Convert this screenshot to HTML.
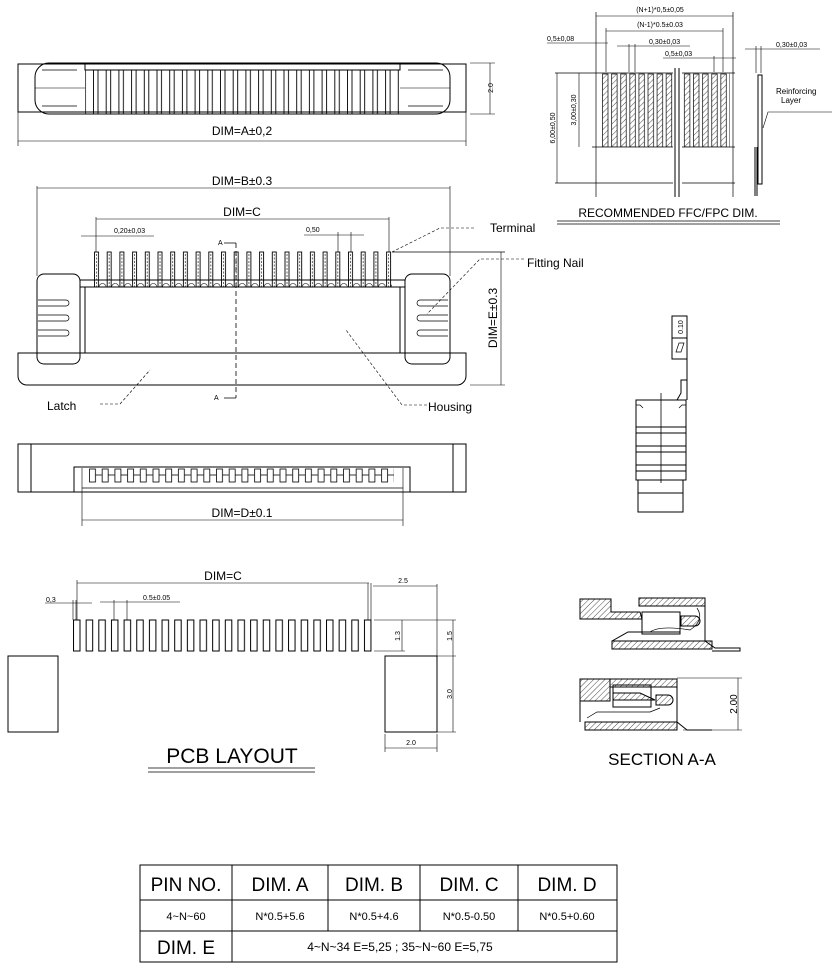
<!DOCTYPE html>
<html><head><meta charset="utf-8"><style>
html,body{margin:0;padding:0;background:#fff;}
svg{display:block;font-family:"Liberation Sans",Arial,sans-serif;}
</style></head><body>
<svg width="838" height="970" viewBox="0 0 838 970" xmlns="http://www.w3.org/2000/svg">
<defs>
<pattern id="pinTop" patternUnits="userSpaceOnUse" x="93" y="0" width="12.7" height="200"><rect x="0.5" y="70" width="4.5" height="44" fill="none" stroke="#000" stroke-width="0.9"/></pattern>
<pattern id="pinFront" patternUnits="userSpaceOnUse" x="94" y="0" width="12.7" height="400"><rect x="0.5" y="252" width="4" height="35" fill="none" stroke="#000" stroke-width="0.9"/><line x1="2.5" y1="254" x2="2.5" y2="287" stroke="#000" stroke-width="0.6" stroke-dasharray="2,1.5"/><path d="M5 287 a3.5 3.5 0 0 1 7 0" fill="none" stroke="#000" stroke-width="0.6"/></pattern>
<pattern id="pinBot" patternUnits="userSpaceOnUse" x="89" y="0" width="12.7" height="600"><rect x="0.5" y="469" width="6" height="13" fill="none" stroke="#000" stroke-width="0.8"/><line x1="6.5" y1="475" x2="12.7" y2="475" stroke="#000" stroke-width="0.8"/></pattern>
<pattern id="pad" patternUnits="userSpaceOnUse" x="73" y="0" width="12.65" height="800"><rect x="0.5" y="620" width="6.5" height="31" fill="none" stroke="#000" stroke-width="1"/></pattern>
<pattern id="ffc" patternUnits="userSpaceOnUse" x="602" y="0" width="9.1" height="300"><rect x="0.5" y="74" width="5.5" height="73" fill="url(#hatch)" stroke="#000" stroke-width="0.7"/></pattern>
<pattern id="hatch" patternUnits="userSpaceOnUse" width="4" height="4" patternTransform="rotate(45)"><line x1="0" y1="0" x2="0" y2="4" stroke="#000" stroke-width="0.7"/></pattern>
</defs>
<g fill="none" stroke="#000" stroke-width="1">
<rect x="18" y="64" width="448" height="48"/>
<rect x="35" y="63" width="415" height="51" rx="14"/>
<rect x="85" y="63" width="315" height="7"/>
<rect x="85" y="70" width="315" height="44" fill="url(#pinTop)" stroke="none"/>
<line x1="35" y1="88" x2="85" y2="88" stroke-width="0.6"/><line x1="400" y1="88" x2="450" y2="88" stroke-width="0.6"/>
<path d="M42 70 h35 M42 106 h35 M408 70 h35 M408 106 h35" stroke-width="0.7"/>
<line x1="470" y1="63" x2="495" y2="63" stroke-width="0.6"/><line x1="470" y1="114" x2="495" y2="114" stroke-width="0.6"/>
<line x1="490" y1="63" x2="490" y2="114" stroke-width="0.6"/>
<line x1="18" y1="112" x2="18" y2="146" stroke-width="0.6"/><line x1="466" y1="112" x2="466" y2="146" stroke-width="0.6"/>
<line x1="18" y1="141" x2="466" y2="141" stroke-width="0.6"/>
<line x1="37" y1="188" x2="450" y2="188" stroke-width="0.6"/>
<line x1="37" y1="186" x2="37" y2="276" stroke-width="0.6"/><line x1="450" y1="186" x2="450" y2="276" stroke-width="0.6"/>
<line x1="96" y1="219" x2="389" y2="219" stroke-width="0.6"/>
<line x1="96" y1="217" x2="96" y2="252" stroke-width="0.6"/><line x1="389" y1="217" x2="389" y2="252" stroke-width="0.6"/>
<line x1="81" y1="236" x2="154" y2="236" stroke-width="0.6"/>
<line x1="304" y1="235" x2="364" y2="235" stroke-width="0.6"/>
<line x1="338" y1="232" x2="338" y2="252" stroke-width="0.6"/><line x1="351" y1="232" x2="351" y2="252" stroke-width="0.6"/>
<rect x="94" y="250" width="298" height="40" fill="url(#pinFront)" stroke="none"/>
<rect x="80" y="280" width="325" height="7"/>
<rect x="37" y="274" width="43" height="90" rx="7"/>
<rect x="405" y="274" width="45" height="90" rx="7"/>
<line x1="85" y1="287" x2="85" y2="353"/><line x1="400" y1="287" x2="400" y2="353"/>
<path d="M38 300 h28 a3 3 0 0 1 0 6 h-28 M38 315 h28 a3 3 0 0 1 0 6 h-28 M38 330 h28 a3 3 0 0 1 0 6 h-28" stroke-width="0.7"/>
<path d="M448 300 h-28 a3 3 0 0 0 0 6 h28 M448 315 h-28 a3 3 0 0 0 0 6 h28 M448 330 h-28 a3 3 0 0 0 0 6 h28" stroke-width="0.7"/>
<path d="M18 353 H466 V376 a9 9 0 0 1 -9 9 H27 a9 9 0 0 1 -9 -9 Z"/>
<line x1="236" y1="243" x2="236" y2="398" stroke-dasharray="5,3" stroke-width="0.8"/>
<path d="M224 243 h12 M224 398 h12" stroke-width="0.7"/>
<line x1="392" y1="252" x2="505" y2="252" stroke-width="0.7"/>
<line x1="470" y1="385" x2="505" y2="385" stroke-width="0.6"/>
<line x1="501" y1="252" x2="501" y2="385" stroke-width="0.6"/>
<path d="M474 228 H440 L392 252" stroke-dasharray="3,2" stroke-width="0.6"/>
<path d="M524 259 H480 L427 314" stroke-dasharray="3,2" stroke-width="0.6"/>
<path d="M100 404 H120 L150 370" stroke-dasharray="3,2" stroke-width="0.6"/>
<path d="M427 405 H402 L346 330" stroke-dasharray="3,2" stroke-width="0.6"/>
<rect x="18" y="444" width="448" height="48"/>
<line x1="31" y1="444" x2="31" y2="492"/><line x1="453" y1="444" x2="453" y2="492"/>
<path d="M74 492 V467 H410 V492"/>
<line x1="82" y1="488" x2="403" y2="488" stroke-width="0.8"/>
<rect x="89" y="465" width="305" height="20" fill="url(#pinBot)" stroke="none"/>
<line x1="82" y1="468" x2="82" y2="526" stroke-width="0.6"/><line x1="403" y1="468" x2="403" y2="526" stroke-width="0.6"/>
<line x1="82" y1="520" x2="403" y2="520" stroke-width="0.6"/>
<line x1="555" y1="73" x2="735" y2="73" stroke-width="0.8"/>
<line x1="592" y1="147" x2="735" y2="147" stroke-width="0.8"/>
<line x1="555" y1="183" x2="735" y2="183" stroke-width="0.8"/>
<rect x="600" y="73" width="130" height="74" fill="url(#ffc)" stroke="none"/>
<rect x="673" y="68" width="9" height="130" fill="#fff" stroke="none"/>
<line x1="675" y1="68" x2="675" y2="197"/><line x1="679" y1="68" x2="679" y2="197"/>
<line x1="596" y1="12" x2="596" y2="197" stroke-width="0.7"/><line x1="733" y1="12" x2="733" y2="197" stroke-width="0.7"/>
<line x1="596" y1="16" x2="733" y2="16" stroke-width="0.6"/>
<line x1="606" y1="31" x2="723" y2="31" stroke-width="0.6"/>
<line x1="606" y1="28" x2="606" y2="72" stroke-width="0.6"/><line x1="723" y1="28" x2="723" y2="72" stroke-width="0.6"/>
<line x1="617" y1="46" x2="690" y2="46" stroke-width="0.6"/>
<line x1="629" y1="44" x2="629" y2="72" stroke-width="0.6"/><line x1="635" y1="44" x2="635" y2="72" stroke-width="0.6"/>
<line x1="663" y1="58" x2="736" y2="58" stroke-width="0.6"/>
<line x1="714" y1="56" x2="714" y2="72" stroke-width="0.6"/>
<line x1="547" y1="43" x2="608" y2="43" stroke-width="0.6"/>
<line x1="557" y1="73" x2="557" y2="183" stroke-width="0.6"/>
<line x1="579" y1="73" x2="579" y2="147" stroke-width="0.6"/>
<line x1="745" y1="49" x2="820" y2="49" stroke-width="0.6"/>
<line x1="756" y1="46" x2="756" y2="73" stroke-width="0.6"/><line x1="761" y1="46" x2="761" y2="73" stroke-width="0.6"/>
<rect x="758" y="75" width="4" height="109"/>
<line x1="755" y1="147" x2="755" y2="196"/><line x1="757" y1="147" x2="757" y2="196"/>
<path d="M763 128 L768 112 H832" stroke-width="0.6"/>
<line x1="557" y1="221" x2="780" y2="221" stroke-width="0.8"/><line x1="557" y1="224" x2="780" y2="224" stroke-width="0.8"/>
<rect x="672" y="316" width="15" height="43"/><line x1="672" y1="338" x2="687" y2="338"/>
<path d="M676 352 l3 -9 h5 l-3 9 z" stroke-width="0.7"/>
<path d="M687 359 V400 M687 380 H681 V393 L677 400" />
<rect x="636" y="400" width="50" height="80"/>
<path d="M636 405 h4 l3 3 M686 405 h-4 l-3 3" stroke-width="0.7"/>
<rect x="636" y="427" width="50" height="6"/><rect x="636" y="446" width="50" height="6"/><rect x="636" y="465" width="50" height="6"/>
<rect x="638" y="480" width="45" height="32"/><line x1="638" y1="493" x2="683" y2="493"/>
<line x1="661" y1="393" x2="661" y2="483" stroke-width="0.8"/>
<path d="M580 599 H611 V612 H640 L642 619 H580 Z" fill="url(#hatch)"/>
<rect x="639" y="598" width="66" height="8" fill="url(#hatch)"/>
<path d="M640 606 H705 V641" />
<rect x="642" y="612" width="38" height="22"/>
<path d="M681 616 H695 a3 3 0 0 1 0 10 H681 Z" fill="url(#hatch)"/>
<path d="M650 632 Q660 625 690 630 Q705 620 697 608" stroke-width="0.7"/>
<rect x="612" y="641" width="100" height="8" fill="url(#hatch)"/>
<path d="M612 641 L628 632 H680 M705 641 L715 648 H740 V651 H712" />
<rect x="580" y="679" width="30" height="22" fill="url(#hatch)"/>
<rect x="610" y="679" width="67" height="8" fill="url(#hatch)"/>
<path d="M610 687 H677 V722 M580 701 V722" />
<rect x="613" y="685" width="38" height="22"/>
<path d="M613 693 H640 L655 700 H613 Z" fill="url(#hatch)"/>
<path d="M656 695 H668 a3 3 0 0 1 0 10 H656 Z" fill="url(#hatch)"/>
<path d="M587 718 L597 712 H650 L660 708" stroke-width="0.7"/>
<rect x="585" y="722" width="92" height="8" fill="url(#hatch)"/>
<path d="M677 722 L687 730 H712" />
<path d="M677 678 H742 M683 730 H742 M738 678 V730" stroke-width="0.6"/>
<rect x="70" y="618" width="306" height="36" fill="url(#pad)" stroke="none"/>
<line x1="77" y1="583" x2="369" y2="583" stroke-width="0.6"/>
<line x1="77" y1="580" x2="77" y2="620" stroke-width="0.6"/>
<line x1="368" y1="583" x2="368" y2="620" stroke-width="0.6"/><line x1="371" y1="583" x2="371" y2="620" stroke-width="0.6"/>
<line x1="373" y1="586" x2="437" y2="586" stroke-width="0.6"/>
<line x1="437" y1="584" x2="437" y2="656" stroke-width="0.6"/>
<line x1="45" y1="603" x2="92" y2="603" stroke-width="0.6"/>
<line x1="73" y1="600" x2="73" y2="620" stroke-width="0.6"/><line x1="76" y1="600" x2="76" y2="620" stroke-width="0.6"/>
<line x1="100" y1="602" x2="180" y2="602" stroke-width="0.6"/>
<line x1="114" y1="600" x2="114" y2="620" stroke-width="0.6"/><line x1="127" y1="600" x2="127" y2="620" stroke-width="0.6"/>
<line x1="374" y1="620" x2="456" y2="620" stroke-width="0.6"/>
<line x1="374" y1="651" x2="405" y2="651" stroke-width="0.6"/>
<line x1="402" y1="620" x2="402" y2="651" stroke-width="0.6"/>
<line x1="453" y1="620" x2="453" y2="732" stroke-width="0.6"/>
<line x1="437" y1="656" x2="456" y2="656" stroke-width="0.6"/><line x1="437" y1="732" x2="456" y2="732" stroke-width="0.6"/>
<rect x="8" y="656" width="50" height="76"/>
<rect x="385" y="656" width="52" height="76"/>
<line x1="385" y1="734" x2="385" y2="752" stroke-width="0.6"/><line x1="437" y1="734" x2="437" y2="752" stroke-width="0.6"/>
<line x1="385" y1="748" x2="437" y2="748" stroke-width="0.6"/>
<line x1="148" y1="768" x2="315" y2="768" stroke-width="0.8"/><line x1="148" y1="772" x2="315" y2="772" stroke-width="0.8"/>
<rect x="140" y="865" width="477" height="97"/>
<path d="M140 900 H617 M140 931 H617 M232 865 V962 M328 865 V931 M420 865 V931 M518 865 V931"/>
</g>
<g fill="#000">
<text x="242" y="135" font-size="12" text-anchor="middle">DIM=A±0,2</text>
<text x="493" y="88" font-size="7" text-anchor="middle" transform="rotate(-90 493 88)">2.0</text>
<text x="242" y="185" font-size="12" text-anchor="middle">DIM=B±0.3</text>
<text x="242" y="216" font-size="12" text-anchor="middle">DIM=C</text>
<text x="114" y="233" font-size="7">0,20±0,03</text>
<text x="306" y="232" font-size="7">0,50</text>
<text x="218" y="245" font-size="7">A</text>
<text x="214" y="400" font-size="7">A</text>
<text x="490" y="232" font-size="12">Terminal</text>
<text x="527" y="267" font-size="12">Fitting Nail</text>
<text x="47" y="410" font-size="12">Latch</text>
<text x="428" y="411" font-size="12">Housing</text>
<text x="497" y="318" font-size="12" text-anchor="middle" transform="rotate(-90 497 318)">DIM=E±0.3</text>
<text x="242" y="517" font-size="12" text-anchor="middle">DIM=D±0.1</text>
<text x="660" y="12" font-size="7" text-anchor="middle">(N+1)*0,5±0,05</text>
<text x="660" y="27" font-size="7" text-anchor="middle">(N-1)*0.5±0.03</text>
<text x="649" y="44" font-size="7">0,30±0,03</text>
<text x="665" y="56" font-size="7">0,5±0,03</text>
<text x="547" y="41" font-size="7">0,5±0,08</text>
<text x="776" y="47" font-size="7">0,30±0,03</text>
<text x="776" y="94" font-size="8">Reinforcing</text>
<text x="781" y="103" font-size="8">Layer</text>
<text x="555" y="128" font-size="7" text-anchor="middle" transform="rotate(-90 555 128)">6,00±0,50</text>
<text x="576" y="110" font-size="7" text-anchor="middle" transform="rotate(-90 576 110)">3,00±0,30</text>
<text x="668" y="217" font-size="12" text-anchor="middle">RECOMMENDED FFC/FPC DIM.</text>
<text x="683" y="327" font-size="7" text-anchor="middle" transform="rotate(-90 683 327)">0.10</text>
<text x="737" y="704" font-size="10" text-anchor="middle" transform="rotate(-90 737 704)">2.00</text>
<text x="662" y="765" font-size="17" text-anchor="middle">SECTION A-A</text>
<text x="223" y="580" font-size="12" text-anchor="middle">DIM=C</text>
<text x="46" y="602" font-size="7">0,3</text>
<text x="143" y="600" font-size="7">0.5±0.05</text>
<text x="403" y="583" font-size="7" text-anchor="middle">2.5</text>
<text x="400" y="636" font-size="7" text-anchor="middle" transform="rotate(-90 400 636)">1.3</text>
<text x="452" y="636" font-size="7" text-anchor="middle" transform="rotate(-90 452 636)">1.5</text>
<text x="452" y="694" font-size="7" text-anchor="middle" transform="rotate(-90 452 694)">3.0</text>
<text x="411" y="745" font-size="7" text-anchor="middle">2.0</text>
<text x="232" y="763" font-size="21" text-anchor="middle">PCB LAYOUT</text>
<text x="186" y="891" font-size="19" text-anchor="middle">PIN NO.</text>
<text x="280" y="891" font-size="19" text-anchor="middle">DIM. A</text>
<text x="374" y="891" font-size="19" text-anchor="middle">DIM. B</text>
<text x="469" y="891" font-size="19" text-anchor="middle">DIM. C</text>
<text x="567" y="891" font-size="19" text-anchor="middle">DIM. D</text>
<text x="186" y="920" font-size="11" text-anchor="middle">4~N~60</text>
<text x="280" y="920" font-size="11" text-anchor="middle">N*0.5+5.6</text>
<text x="374" y="920" font-size="11" text-anchor="middle">N*0.5+4.6</text>
<text x="469" y="920" font-size="11" text-anchor="middle">N*0.5-0.50</text>
<text x="567" y="920" font-size="11" text-anchor="middle">N*0.5+0.60</text>
<text x="186" y="954" font-size="19" text-anchor="middle">DIM. E</text>
<text x="400" y="951" font-size="12" text-anchor="middle">4~N~34  E=5,25 ; 35~N~60  E=5,75</text>
</g>
</svg>
</body></html>
